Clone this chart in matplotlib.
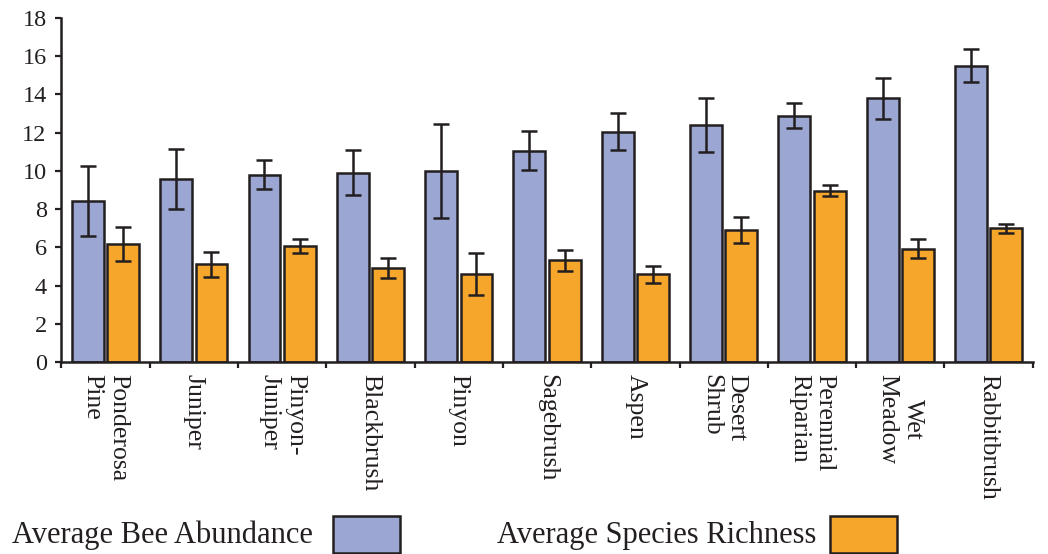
import matplotlib.pyplot as plt
from matplotlib.patches import Rectangle
import numpy as np

plt.rcParams['font.family'] = ['Liberation Serif', 'DejaVu Serif']

# values
habitats = ['Ponderosa\nPine', 'Juniper', 'Pinyon-\nJuniper', 'Blackbrush', 'Pinyon',
            'Sagebrush', 'Aspen', 'Desert\nShrub', 'Perennial\nRiparian', 'Wet\nMeadow',
            'Rabbitbrush']
abundance = [8.42, 9.56, 9.80, 9.91, 10.01, 11.06, 12.06, 12.41, 12.88, 13.79, 15.50]
abundance_err = [1.82, 1.58, 0.77, 1.16, 2.45, 1.02, 0.98, 1.43, 0.66, 1.07, 0.86]
richness = [6.17, 5.11, 6.05, 4.92, 4.62, 5.33, 4.58, 6.89, 8.97, 5.92, 6.99]
richness_err = [0.89, 0.65, 0.37, 0.50, 1.09, 0.55, 0.44, 0.68, 0.30, 0.50, 0.24]

BLUE = '#9BA6D3'
ORANGE = '#F5A62B'
INK = '#231F20'


def main():
    fig = plt.figure(figsize=(10.48, 5.54), dpi=100)
    ax = fig.add_axes([0.0585, 0.3466, 0.927, 0.6209])

    x = np.arange(len(habitats))
    w = 0.36
    off = 0.2

    ax.bar(x - off, abundance, w, color=BLUE, edgecolor=INK, linewidth=1.8, zorder=2)
    ax.bar(x + off, richness, w, color=ORANGE, edgecolor=INK, linewidth=1.8, zorder=2)
    err_style = dict(fmt='none', ecolor=INK, elinewidth=1.8, capsize=6, capthick=1.8, zorder=3)
    ax.errorbar(x - off, abundance, yerr=abundance_err, **err_style)
    ax.errorbar(x + off, richness, yerr=richness_err, **err_style)

    ax.set_xlim(-0.5, len(habitats) - 0.5)
    ax.set_ylim(0, 18)
    ax.set_yticks(np.arange(0, 19, 2))
    ax.set_xticks(x)
    ax.set_xticklabels(habitats, rotation=270, ha='center', va='top',
                       multialignment='left', color=INK)
    ax.set_xticks(np.arange(-0.5, len(habitats), 1), minor=True)
    # "Wet / Meadow" lines are centred in the original
    ax.get_xticklabels()[9].set_multialignment('center')

    for side in ('top', 'right'):
        ax.spines[side].set_visible(False)
    for side in ('left', 'bottom'):
        ax.spines[side].set_linewidth(1.8)
        ax.spines[side].set_color(INK)

    ax.tick_params(axis='x', which='major', length=0, pad=9, labelsize=18.5)
    ax.tick_params(axis='x', which='minor', length=4, width=1.6, color=INK)
    ax.tick_params(axis='y', length=4.5, width=1.6, color=INK, labelsize=17.5,
                   pad=6, labelcolor=INK)

    # legend: label text followed by a swatch
    fig.text(12 / 1048, 1 - 543 / 554, 'Average Bee Abundance', fontsize=22,
             color=INK, va='baseline', ha='left')
    fig.add_artist(Rectangle((333 / 1048, 1 - 553 / 554), 67 / 1048, 37 / 554,
                             transform=fig.transFigure, facecolor=BLUE,
                             edgecolor=INK, linewidth=1.8))
    fig.text(497 / 1048, 1 - 543 / 554, 'Average Species Richness', fontsize=22,
             color=INK, va='baseline', ha='left')
    fig.add_artist(Rectangle((830 / 1048, 1 - 553 / 554), 67 / 1048, 37 / 554,
                             transform=fig.transFigure, facecolor=ORANGE,
                             edgecolor=INK, linewidth=1.8))

    fig.savefig('out.png', dpi=100)


if __name__ == "__main__":
    main()
